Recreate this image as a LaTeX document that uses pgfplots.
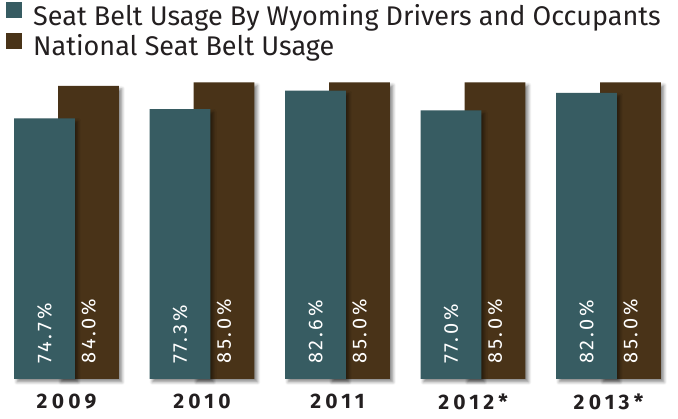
\documentclass[border=0pt]{standalone}
\usepackage{fontspec}
\setmainfont{Fira Sans}
\usepackage{pgfplots}
\usepackage{pgfplotstable}
\pgfplotsset{compat=1.18}
\usetikzlibrary{shadows.blur}
\definecolor{wyteal}{RGB}{55,92,98}
\definecolor{natbrown}{RGB}{73,51,24}
\definecolor{txt}{RGB}{35,31,32}
\newfontfamily\tickfont[LetterSpace=20]{Fira Sans}
\newfontfamily\barfont[LetterSpace=14]{Fira Sans}
\pgfplotstableread{
x wy nat
0 74.7 84.0
1 77.3 85.0
2 82.6 85.0
3 77.0 85.0
4 82.0 85.0
}\seatdata
\begin{document}
\begin{tikzpicture}
\begin{axis}[
  scale only axis, width=678pt, height=379pt,
  xmin=-0.4908, xmax=4.5129, ymin=0, ymax=108.6,
  axis line style={draw=none}, major tick length=0pt,
  ytick=\empty, xtick={0,...,4}, xticklabels={2009,2010,2011,2012*,2013*},
  xticklabel style={font=\tickfont\fontsize{21}{21}\selectfont\bfseries, text=txt, yshift=-11pt},
  clip=false,
  ybar, bar width=0.45, bar shift=0pt,
  legend style={at={(rel axis cs:0,1)}, anchor=north west, xshift=6pt, yshift=-2pt,
    draw=none, fill=none, inner sep=0pt, font=\fontsize{27}{27}\selectfont, text=txt,
    cells={anchor=west}, row sep=4pt, column sep=9pt},
  legend image code/.code={\fill[#1,draw=none] (0pt,-3pt) rectangle (16pt,13pt);},
]
\addplot[forget plot, fill=natbrown, draw=none, blur shadow={shadow xshift=3pt, shadow yshift=-3pt, shadow blur radius=3pt, shadow opacity=45}]
  table[x expr=\thisrow{x}+0.1624, y=nat]{\seatdata};
\addplot[forget plot, fill=wyteal, draw=none, blur shadow={shadow xshift=3pt, shadow yshift=-3pt, shadow blur radius=3pt, shadow opacity=45}]
  table[x expr=\thisrow{x}-0.1624, y=wy]{\seatdata};
\addlegendimage{fill=wyteal}
\addlegendentry{Seat Belt Usage By Wyoming Drivers and Occupants}
\addlegendimage{fill=natbrown}
\addlegendentry{National Seat Belt Usage}
\addplot[draw=none, fill=none, forget plot, point meta=explicit,
  /pgf/number format/assume math mode=true,
  nodes near coords={\pgfmathprintnumber[fixed,fixed zerofill,precision=1,assume math mode=true]{\pgfplotspointmeta}\%},
  every node near coord/.append style={font=\barfont\fontsize{20}{20}\selectfont, text=white, inner sep=0pt, anchor=west, rotate=90, xshift=15pt}]
  table[x expr=\thisrow{x}+0.1624, y expr=0, meta=nat]{\seatdata};
\addplot[draw=none, fill=none, forget plot, point meta=explicit,
  /pgf/number format/assume math mode=true,
  nodes near coords={\pgfmathprintnumber[fixed,fixed zerofill,precision=1,assume math mode=true]{\pgfplotspointmeta}\%},
  every node near coord/.append style={font=\barfont\fontsize{20}{20}\selectfont, text=white, inner sep=0pt, anchor=west, rotate=90, xshift=15pt}]
  table[x expr=\thisrow{x}-0.1624, y expr=0, meta=wy]{\seatdata};
\end{axis}
\pgfresetboundingbox
\path[use as bounding box] (0,-40pt) rectangle (678pt,379pt);
\end{tikzpicture}
\end{document}
